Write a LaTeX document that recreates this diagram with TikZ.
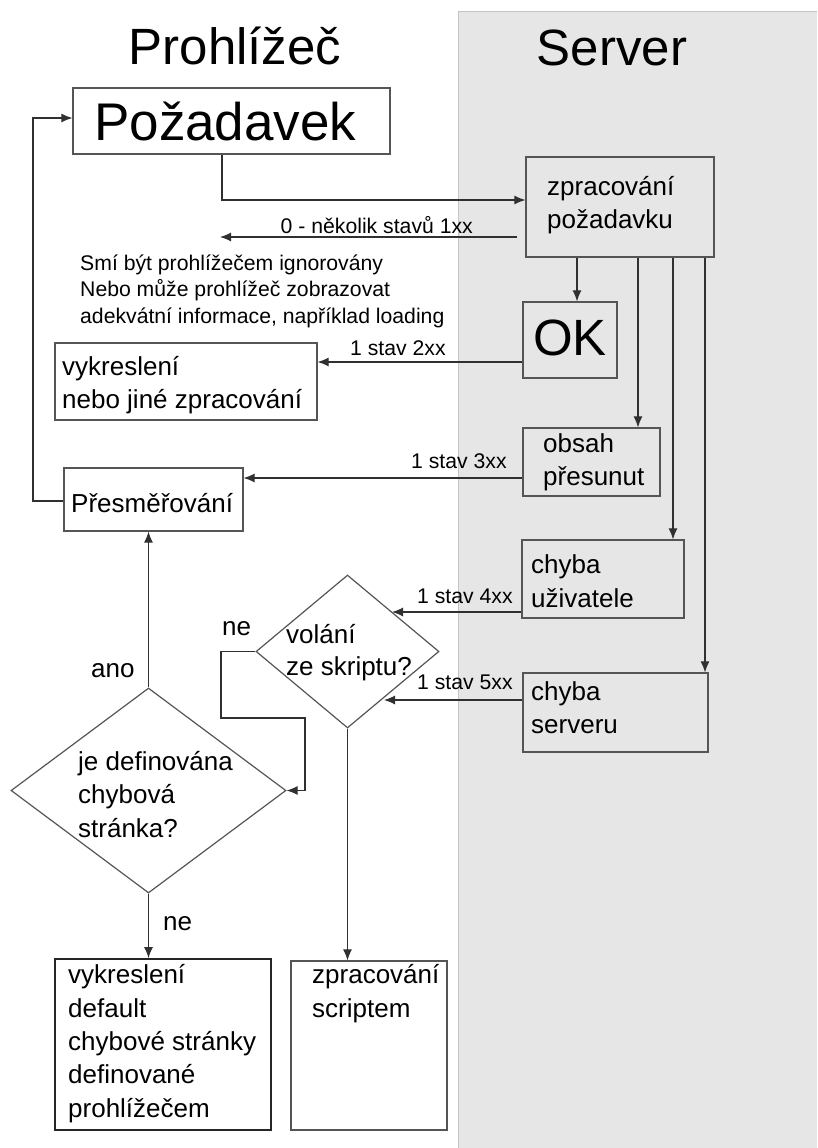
\documentclass[tikz,border=0pt]{standalone}
\usepackage{fontspec}
\setmainfont{Liberation Sans}
\usetikzlibrary{arrows.meta,shapes.geometric}
\definecolor{srvgray}{HTML}{E6E6E6}
\definecolor{srvedge}{HTML}{C4C4C4}
\definecolor{boxedge}{HTML}{555555}
\definecolor{lnk}{HTML}{303030}
\newcommand\szTitle{\fontsize{51}{60}\selectfont}
\newcommand\szBig{\fontsize{53}{62}\selectfont}
\newcommand\szOK{\fontsize{51}{60}\selectfont}
\newcommand\szNorm{\fontsize{26}{33}\selectfont}
\newcommand\szLab{\fontsize{21.2}{26}\selectfont}
\begin{document}
\begin{tikzpicture}[x=1pt,y=-1pt,
  box/.style={draw=boxedge, line width=1.2pt, inner sep=0pt, rectangle},
  dia/.style={draw=boxedge, line width=1.2pt, diamond, inner sep=0pt, fill=white},
  arr/.style={draw=lnk, line width=1.1pt, -{Latex[length=11pt,width=9pt]}},
  txt/.style={inner sep=0pt, anchor=base west, font=\szNorm},
  lab/.style={inner sep=0pt, anchor=base west, font=\szLab}]
\useasboundingbox (0,0) rectangle (817,1148);
% server background
\fill[srvgray] (458,12) rectangle (817,1148);
\draw[srvedge, line width=1pt] (458,1148) -- (458,12) -- (817,12);
% titles
\node[inner sep=0pt, anchor=base, font=\szTitle] (tbrowser) at (235,64) {Prohlížeč};
\node[inner sep=0pt, anchor=base, font=\szTitle] (tserver) at (612,66) {Server};
% boxes
\node[box, fill=white, minimum width=317pt, minimum height=66pt] (req) at (231.5,121) {};
\node[box, fill=srvgray, minimum width=188pt, minimum height=100pt] (proc) at (620,207) {};
\node[box, fill=srvgray, minimum width=94pt, minimum height=76pt] (ok) at (570,340) {};
\node[box, fill=white, minimum width=262pt, minimum height=77pt] (rend) at (186,381.5) {};
\node[box, fill=srvgray, minimum width=137pt, minimum height=68pt] (moved) at (591.5,462) {};
\node[box, fill=white, minimum width=179pt, minimum height=63pt] (redir) at (153.5,499.5) {};
\node[box, fill=srvgray, minimum width=162pt, minimum height=78pt] (uerr) at (603,579) {};
\node[box, fill=srvgray, minimum width=185pt, minimum height=79pt] (serr) at (615.5,712.5) {};
\node[box, fill=white, draw=black!85, line width=1.8pt, minimum width=216pt, minimum height=171pt] (def) at (163,1044.5) {};
\node[box, fill=white, minimum width=156pt, minimum height=169pt] (scr) at (369,1045.5) {};
\node[dia, minimum width=183pt, minimum height=153pt] (q1) at (347.5,651.5) {};
\node[dia, minimum width=275pt, minimum height=205pt] (q2) at (148.5,790.5) {};
% helper coordinates
\coordinate (c222) at (222,0);
\coordinate (e1) at (220,237);
\coordinate (x577) at (577,0);
\coordinate (x638) at (638,0);
\coordinate (x673) at (673,0);
\coordinate (x705) at (705,0);
\coordinate (h362) at (0,362);
\coordinate (h478) at (0,478);
\coordinate (lp) at (33,118);
\coordinate (t4) at (392,612);
\coordinate (t5) at (384,700);
\coordinate (b1) at (221,718);
\coordinate (b2) at (305,790.5);
% connectors
\draw[arr] (req.south -| c222) |- ([yshift=7pt]proc.west);
\draw[arr] ([xshift=-8pt,yshift=-30pt]proc.west) -- (e1);
\draw[arr] (proc.south -| x577) -- (ok.north -| x577);
\draw[arr] (proc.south -| x638) -- (moved.north -| x638);
\draw[arr] (proc.south -| x673) -- (uerr.north -| x673);
\draw[arr] (proc.south -| x705) -- (serr.north -| x705);
\draw[arr] (ok.west |- h362) -- (rend.east |- h362);
\draw[arr] (moved.west |- h478) -- (redir.east |- h478);
\draw[arr] ([yshift=-1.5pt]redir.west) -| (lp) -- ([yshift=3pt]req.west);
\draw[arr] (uerr.west |- t4) -- (t4);
\draw[arr] (serr.west |- t5) -- (t5);
\draw[arr] (q1.west) -| (b1) -| (b2) -- (q2.east);
\draw[arr] (q2.north) -- (q2.north |- redir.south);
\draw[arr] (q2.south) -- (q2.south |- def.north);
\draw[arr] (q1.south) -- (q1.south |- scr.north);
% labels
\node[lab, anchor=base east] (l1) at (473,233) {0 - několik stavů 1xx};
\node[lab] (l2) at (350,355) {1 stav 2xx};
\node[lab] (l3) at (411,468) {1 stav 3xx};
\node[lab] (l4) at (417,603) {1 stav 4xx};
\node[lab] (l5) at (417,689) {1 stav 5xx};
\node[txt] (lne1) at (222,635) {ne};
\node[txt] (lano) at (91,677) {ano};
\node[txt] (lne2) at (163,930) {ne};
\node[lab] (i1) at (80,270) {Smí být prohlížečem ignorovány};
\node[lab] (i2) at (80,296) {Nebo může prohlížeč zobrazovat};
\node[lab] (i3) at (80,323) {adekvátní informace, například loading};
% box texts
\node[txt, font=\szBig] (treq) at (94,140) {Požadavek};
\node[txt] (tp1) at (547,195) {zpracování};
\node[txt] (tp2) at (547,228) {požadavku};
\node[txt, font=\szOK] (tok) at (533,355) {OK};
\node[txt] (tr1) at (62,375) {vykreslení};
\node[txt] (tr2) at (62,408) {nebo jiné zpracování};
\node[txt] (tm1) at (543,452) {obsah};
\node[txt] (tm2) at (543,485) {přesunut};
\node[txt] (tredir) at (71,512) {Přesměřování};
\node[txt] (tu1) at (531,573) {chyba};
\node[txt] (tu2) at (531,607) {uživatele};
\node[txt] (ts1) at (531,700) {chyba};
\node[txt] (ts2) at (531,733) {serveru};
\node[txt] (tq1a) at (286,643) {volání};
\node[txt] (tq1b) at (286,675) {ze skriptu?};
\node[txt] (tq2a) at (78,770) {je definována};
\node[txt] (tq2b) at (78,803) {chybová};
\node[txt] (tq2c) at (78,837) {stránka?};
\node[txt] (td1) at (68,983) {vykreslení};
\node[txt] (td2) at (68,1017) {default};
\node[txt] (td3) at (68,1050) {chybové stránky};
\node[txt] (td4) at (68,1083) {definované};
\node[txt] (td5) at (68,1117) {prohlížečem};
\node[txt] (tc1) at (312,983) {zpracování};
\node[txt] (tc2) at (312,1017) {scriptem};
\end{tikzpicture}
\end{document}
